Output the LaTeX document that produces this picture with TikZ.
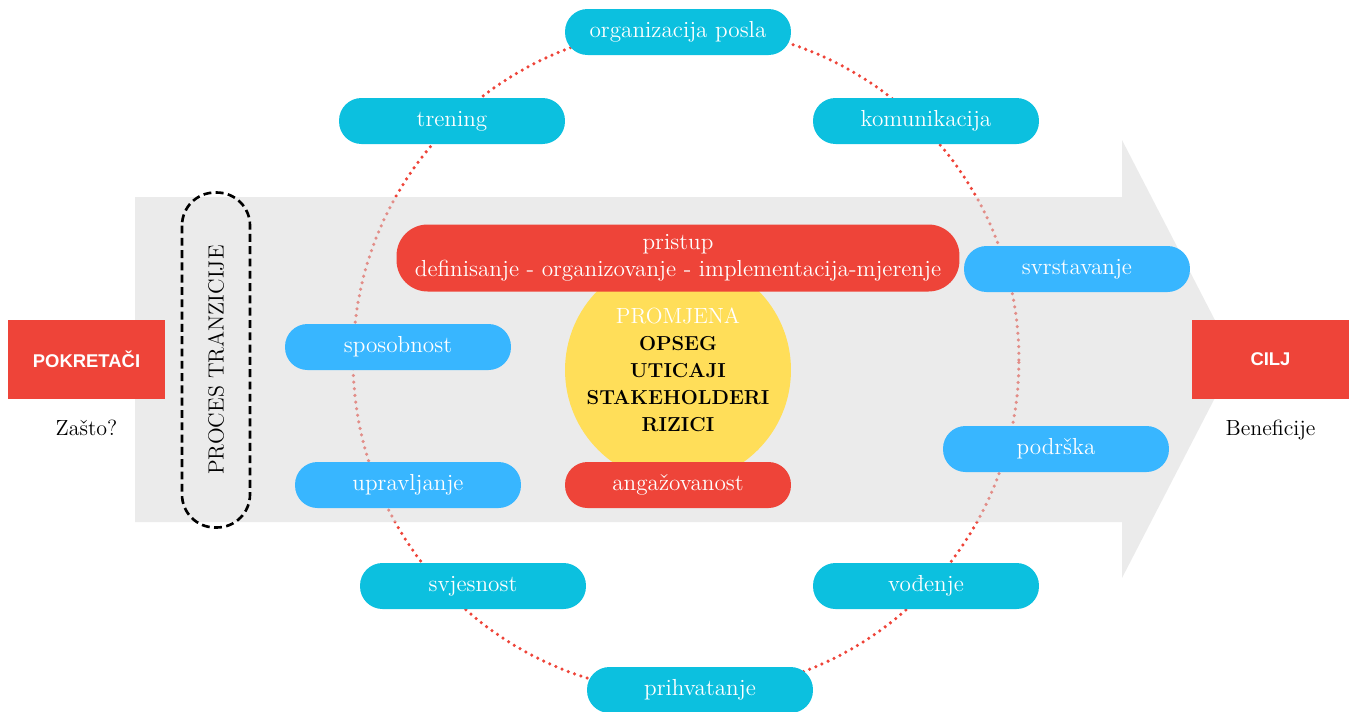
\documentclass[tikz,border=0pt]{standalone}
\usepackage{fontspec}
\newfontfamily\headfont{Liberation Sans}
\usepackage{xcolor}
\definecolor{Teal}{HTML}{0CC0DF}
\definecolor{SkyBlue}{HTML}{38B6FF}
\definecolor{Coral}{HTML}{EE4439}
\definecolor{Sun}{HTML}{FFDE59}
\definecolor{ArrowGray}{HTML}{D7D7D7}
\usetikzlibrary{positioning}

\begin{document}
\begin{tikzpicture}[x=0.02cm, y=-0.02cm,
    pill/.style={rectangle, rounded corners=0.45cm, minimum width=4.52cm, minimum height=0.92cm,
              inner sep=0pt, text=white, font=\fontsize{13.2}{15.4}\selectfont},
    outer/.style={pill, fill=Teal},
    inner/.style={pill, fill=SkyBlue},
    hot/.style={pill, fill=Coral},
    tag/.style={rectangle, fill=Coral, minimum width=3.14cm, minimum height=1.58cm,
              text=white, font=\headfont\bfseries\fontsize{10.5}{12}\selectfont},
    note/.style={font=\fontsize{12.5}{14}\selectfont}
]
    \useasboundingbox (0,0) rectangle (1352,711);

    % dotted ring behind everything
    \draw[Coral, line width=2pt, dash pattern=on 0pt off 3.8pt, line cap=round]
        (686,360) circle[radius=6.66cm];

    % big gray arrow, see-through so the ring shows faintly
    \fill[ArrowGray, fill opacity=0.5] (135,197) -- (1122,197) -- (1122,140) -- (1235,359)
        -- (1122,578) -- (1122,522) -- (135,522) -- cycle;

    \node[draw, line width=1.5pt, dash pattern=on 4.5pt off 2.5pt, rounded corners=0.66cm,
          minimum width=6.7cm, minimum height=1.36cm, rotate=90, note] (proc) at (216,360)
          {PROCES TRANZICIJE};

    % ring of pills
    \node[outer] (org) at (678,32) {organizacija posla};
    \node[outer] (tren) at (452,121) {trening};
    \node[outer] (kom) at (926,121) {komunikacija};
    \node[inner] (svrs) at (1077,269) {svrstavanje};
    \node[inner] (spos) at (398,347) {sposobnost};
    \node[inner] (podr) at (1056,449) {podrška};
    \node[inner] (upr) at (408,485) {upravljanje};
    \node[outer] (svj) at (473,586) {svjesnost};
    \node[outer] (vod) at (926,586) {vođenje};
    \node[outer] (prih) at (700,690) {prihvatanje};

    % centre
    \node[circle, fill=Sun, minimum size=4.52cm, inner sep=0pt, align=center,
          font=\fontsize{11.5}{15.3}\selectfont] (prom) at (678,370)
          {\textcolor{white}{\fontsize{12.5}{15.3}\selectfont PROMJENA}\\ \textbf{OPSEG}\\ \textbf{UTICAJI}\\
           \textbf{STAKEHOLDERI}\\ \textbf{RIZICI}};
    \node[hot, minimum width=11.26cm, minimum height=1.34cm, rounded corners=0.62cm,
          align=center] (prist) at (678,258)
          {pristup\\ definisanje - organizovanje - implementacija-mjerenje};
    \node[hot] (ang) at (678,485) {angažovanost};

    % start and end
    \node[tag] (pok) at (86.5,359.5) {POKRETAČI};
    \node[tag] (cilj) at (1270.5,359.5) {CILJ};
    \node[note, below=0.28cm of pok] (zasto) {Zašto?};
    \node[note, below=0.28cm of cilj] (benef) {Beneficije};
\end{tikzpicture}
\end{document}
